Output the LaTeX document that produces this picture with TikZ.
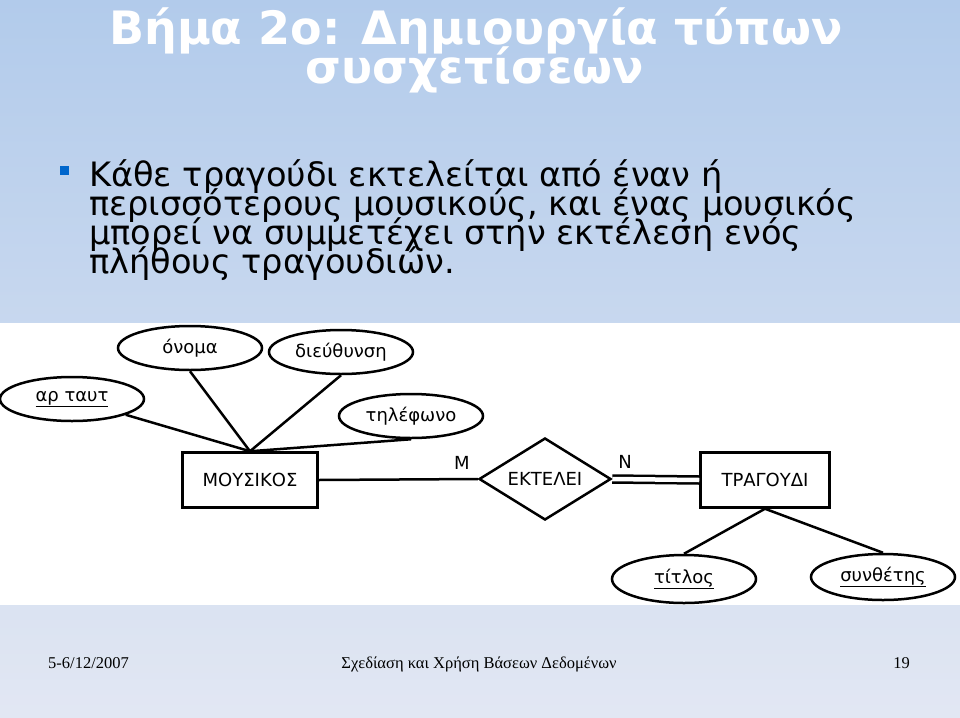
\documentclass[tikz,border=0pt]{standalone}
\usepackage{fontspec}
\setmainfont{DejaVu Sans}
\newfontfamily\erfont{DejaVu Sans}
\newfontfamily\footfont{Liberation Serif}
\usetikzlibrary{shapes.geometric}
\definecolor{bgtop}{RGB}{178,203,235}
\definecolor{bgbot}{RGB}{226,231,243}
\definecolor{bulletblue}{RGB}{0,102,204}
\tikzset{
  attr/.style={ellipse, draw, line width=2.5pt, inner sep=0pt, minimum width=144, minimum height=44, font=\erfont\fontsize{18}{18}\selectfont},
  entity/.style={rectangle, draw, line width=2.5pt, inner sep=0pt, font=\erfont\fontsize{18}{18}\selectfont},
  rel/.style={diamond, draw, line width=2.5pt, inner sep=0pt, minimum width=132, minimum height=82, aspect=1.6, font=\erfont\fontsize{18}{18}\selectfont},
  conn/.style={line width=2.5pt},
  card/.style={font=\erfont\fontsize{18}{18}\selectfont, inner sep=0pt},
  titletext/.style={text=white, inner sep=0pt, font=\bfseries\fontsize{46}{46}\selectfont},
  bodytext/.style={text=black, inner sep=0pt, anchor=base west, font=\fontsize{33.6}{33.6}\selectfont},
  foottext/.style={text=black, inner sep=0pt, anchor=base, font=\footfont\fontsize{16.5}{16.5}\selectfont}
}
\begin{document}
\begin{tikzpicture}[x=1pt,y=-1pt]
\useasboundingbox (0,0) rectangle (960,717);
\shade[top color=bgtop, bottom color=bgbot] (0,0) rectangle (960,717);
\fill[white] (0,323) rectangle (960,605);

% title
\node[titletext, anchor=base] (t1) at (476,45) {Βήμα 2ο: Δημιουργία τύπων};
\node[titletext, anchor=base] (t2) at (475,83) {συσχετίσεων};

% bullet
\node[fill=bulletblue, minimum size=9, inner sep=0pt] (bul) at (64,170) {};
\node[bodytext] (b1) at (89,186) {Κάθε τραγούδι εκτελείται από έναν ή};
\node[bodytext] (b2) at (89,215) {περισσότερους μουσικούς, και ένας μουσικός};
\node[bodytext] (b3) at (89,244) {μπορεί να συμμετέχει στην εκτέλεση ενός};
\node[bodytext] (b4) at (89,273) {πλήθους τραγουδιών.};

% ER diagram
\node[attr] (onoma) at (190,348) {όνομα};
\node[attr] (dieu) at (341,352) {διεύθυνση};
\node[attr] (ar) at (72,399) {\underline{αρ ταυτ}};
\node[attr] (tel) at (411,416) {τηλέφωνο};
\node[entity, minimum width=135, minimum height=55] (mous) at (250,480) {ΜΟΥΣΙΚΟΣ};
\node[rel] (ekt) at (545,479) {ΕΚΤΕΛΕΙ};
\node[entity, minimum width=129, minimum height=55] (trag) at (765,480) {ΤΡΑΓΟΥΔΙ};
\node[attr, minimum height=48] (titl) at (684,579) {\underline{τίτλος}};
\node[attr, minimum height=46] (syn) at (883,577) {\underline{συνθέτης}};

\draw[conn] (ar) -- (mous.north);
\draw[conn] (onoma.south) -- (mous.north);
\draw[conn] (dieu.south) -- (mous.north);
\draw[conn] (tel.south) -- (mous.north);
\draw[conn] (mous.east) -- (ekt.west);
\draw[line width=2.5pt, double, double distance=4.5pt] (ekt.east) -- (trag.west);
\draw[conn] (trag.south) -- (titl.north);
\draw[conn] (trag.south) -- (syn.north);
\node[card] (lm) at (462,463) {Μ};
\node[card] (ln) at (625,462) {Ν};

% footer
\node[foottext, anchor=base west] (f1) at (48,668) {5-6/12/2007};
\node[foottext] (f2) at (479,668) {Σχεδίαση και Χρήση Βάσεων Δεδομένων};
\node[foottext, anchor=base east] (f3) at (910,668) {19};
\end{tikzpicture}
\end{document}
